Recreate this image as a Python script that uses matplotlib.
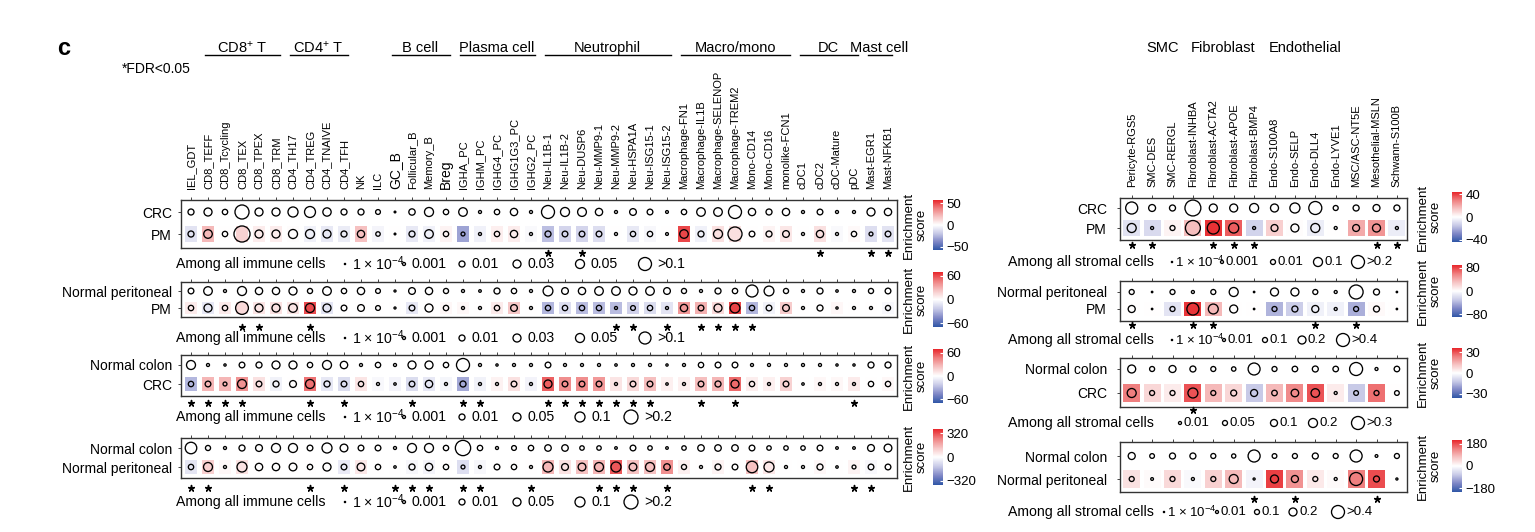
import numpy as np
import matplotlib
matplotlib.use("Agg")
import matplotlib.pyplot as plt
from matplotlib import transforms
from matplotlib.colors import LinearSegmentedColormap, Normalize
from matplotlib.cm import ScalarMappable

plt.rcParams["font.family"] = ["Liberation Sans", "DejaVu Sans"]
plt.rcParams["mathtext.fontset"] = "custom"
plt.rcParams["mathtext.rm"] = "Liberation Sans"
plt.rcParams["mathtext.it"] = "Liberation Sans:italic"
plt.rcParams["mathtext.bf"] = "Liberation Sans:bold"

# ---------------- data ----------------
immune_types = ["IEL_GDT", "CD8_TEFF", "CD8_Tcycling", "CD8_TEX", "CD8_TPEX", "CD8_TRM",
                "CD4_TH17", "CD4_TREG", "CD4_TNAIVE", "CD4_TFH", "NK", "ILC", "GC_B",
                "Follicular_B", "Memory_B", "Breg", "IGHA_PC", "IGHM_PC", "IGHG4_PC",
                "IGHG1G3_PC", "IGHG2_PC", "Neu-IL1B-1", "Neu-IL1B-2", "Neu-DUSP6",
                "Neu-MMP9-1", "Neu-MMP9-2", "Neu-HSPA1A", "Neu-ISG15-1", "Neu-ISG15-2",
                "Macrophage-FN1", "Macrophage-IL1B", "Macrophage-SELENOP", "Macrophage-TREM2",
                "Mono-CD14", "Mono-CD16", "monolike-FCN1", "cDC1", "cDC2", "cDC-Mature",
                "pDC", "Mast-EGR1", "Mast-NFKB1"]
immune_groups = [("CD8$^{+}$ T", 1, 5), ("CD4$^{+}$ T", 6, 9), ("B cell", 12, 15),
                 ("Plasma cell", 16, 20), ("Neutrophil", 21, 28), ("Macro/mono", 29, 35),
                 ("DC", 36, 39), ("Mast cell", 40, 41)]

stromal_types = ["Pericyte-RGS5", "SMC-DES", "SMC-RERGL", "Fibroblast-INHBA", "Fibroblast-ACTA2",
                 "Fibroblast-APOE", "Fibroblast-BMP4", "Endo-S100A8", "Endo-SELP", "Endo-DLL4",
                 "Endo-LYVE1", "MSC/ASC-NT5E", "Mesothelial-MSLN", "Schwann-S100B"]
stromal_groups = [("SMC", 1, 2), ("Fibroblast", 3, 6), ("Endothelial", 7, 10)]

# immune: CRC vs PM
i1_rows = ["CRC", "PM"]
i1_ref = [0.01, 0.03, 0.006, 0.12, 0.03, 0.03, 0.06, 0.07, 0.035, 0.01,
          0.01, 0.004, 0.0002, 0.012, 0.05, 0.006, 0.04, 0.001, 0.006, 0.02,
          0.001, 0.1, 0.05, 0.045, 0.02, 0.001, 0.015, 0.008, 0.0008, 0.006,
          0.04, 0.04, 0.1, 0.02, 0.01, 0.02, 0.001, 0.008, 0.001, 0.001,
          0.03, 0.02]
i1_test = [0.01, 0.04, 0.006, 0.17, 0.03, 0.03, 0.05, 0.05, 0.03, 0.01,
           0.02, 0.003, 0.0002, 0.01, 0.04, 0.006, 0.002, 0.001, 0.006, 0.02,
           0.001, 0.01, 0.008, 0.008, 0.008, 0.001, 0.006, 0.006, 0.0008, 0.04,
           0.01, 0.05, 0.12, 0.008, 0.01, 0.015, 0.001, 0.02, 0.001, 0.006,
           0.002, 0.008]
i1_score = [-10, 22, 0, 14, 6, 6, 1, -5, -8, -7,
            20, -4, 0, -8, -5, 4, -30, -5, 5, 6,
            -2, -22, -15, -15, -12, 0, -8, -3, 0, 50,
            -5, 10, 10, 0, 4, 8, 0, 10, -2, 2,
            -12, -10]
i1_fdr = [21, 23, 37, 40, 41]

# immune: normal peritoneal vs PM
i2_rows = ["Normal peritoneal", "PM"]
i2_ref = [0.008, 0.04, 0.001, 0.05, 0.02, 0.02, 0.03, 0.005, 0.04, 0.006,
          0.02, 0.004, 0.0003, 0.015, 0.02, 0.005, 0.001, 0.0006, 0.01, 0.006,
          0.001, 0.06, 0.015, 0.02, 0.04, 0.04, 0.03, 0.04, 0.015, 0.005,
          0.001, 0.01, 0.006, 0.1, 0.06, 0.005, 0.001, 0.01, 0.0005, 0.001,
          0.005, 0.008]
i2_test = [0.006, 0.03, 0.006, 0.12, 0.03, 0.03, 0.04, 0.05, 0.03, 0.008,
           0.015, 0.004, 0.0003, 0.008, 0.03, 0.006, 0.001, 0.001, 0.006, 0.015,
           0.001, 0.006, 0.006, 0.006, 0.006, 0.001, 0.004, 0.006, 0.001, 0.02,
           0.008, 0.03, 0.06, 0.006, 0.008, 0.015, 0.001, 0.01, 0.0004, 0.001,
           0.001, 0.005]
i2_score = [8, -10, 8, 15, 10, 12, 10, 60, -12, 0,
            0, 0, 0, -10, 0, 3, 3, 0, 8, 22,
            0, -30, -14, -28, -28, -28, -20, -15, -12, 38,
            30, 15, 62, -30, -6, 20, 0, 0, 3, 0,
            0, -3]
i2_fdr = [3, 4, 7, 25, 26, 28, 30, 31, 32, 33]

# immune: normal colon vs CRC
i3_rows = ["Normal colon", "CRC"]
i3_ref = [0.07, 0.001, 0.0004, 0.008, 0.01, 0.05, 0.05, 0.006, 0.07, 0.03,
          0.001, 0.006, 0.001, 0.05, 0.05, 0.006, 0.17, 0.001, 0.0004, 0.001,
          0.001, 0.008, 0.001, 0.001, 0.001, 0.0005, 0.001, 0.001, 0.0004, 0.001,
          0.006, 0.008, 0.008, 0.001, 0.001, 0.001, 0.001, 0.001, 0.0004, 0.0004,
          0.01, 0.01]
i3_test = [0.006, 0.008, 0.002, 0.07, 0.008, 0.01, 0.02, 0.07, 0.01, 0.008,
           0.006, 0.001, 0.0005, 0.008, 0.03, 0.001, 0.01, 0.001, 0.001, 0.008,
           0.001, 0.05, 0.008, 0.008, 0.008, 0.001, 0.008, 0.008, 0.0005, 0.001,
           0.008, 0.01, 0.05, 0.006, 0.001, 0.008, 0.0005, 0.001, 0.001, 0.001,
           0.006, 0.006]
i3_score = [-30, 28, 28, 40, 12, -6, 0, 50, -10, -15,
            10, -3, -5, -15, -10, -4, -35, -6, 5, 12,
            -5, 55, 42, 42, 38, 10, 15, 25, 6, 6,
            25, 28, 52, 7, 6, 18, 0, 3, 3, 8,
            0, 3]
i3_fdr = [0, 1, 2, 3, 7, 9, 13, 16, 17, 21, 22, 23, 24, 25, 26, 27, 30, 32, 39]

# immune: normal colon vs normal peritoneal
i4_rows = ["Normal colon", "Normal peritoneal"]
i4_ref = [0.13, 0.005, 0.001, 0.01, 0.02, 0.07, 0.07, 0.008, 0.1, 0.04,
          0.008, 0.008, 0.001, 0.07, 0.07, 0.006, 0.25, 0.006, 0.001, 0.004,
          0.006, 0.015, 0.015, 0.003, 0.003, 0.0006, 0.008, 0.003, 0.0006, 0.003,
          0.015, 0.015, 0.015, 0.008, 0.003, 0.003, 0.003, 0.008, 0.0006, 0.0006,
          0.02, 0.04]
i4_test = [0.006, 0.07, 0.001, 0.1, 0.03, 0.03, 0.04, 0.006, 0.05, 0.008,
           0.04, 0.006, 0.0005, 0.01, 0.03, 0.006, 0.002, 0.001, 0.008, 0.006,
           0.001, 0.1, 0.02, 0.04, 0.07, 0.1, 0.04, 0.07, 0.015, 0.005,
           0.001, 0.01, 0.008, 0.13, 0.1, 0.001, 0.001, 0.01, 0.0005, 0.002,
           0.008, 0.008]
i4_score = [-60, 100, 15, 60, 0, 0, 0, 0, 0, -50,
            50, 0, 0, -20, -25, 0, -80, -20, 0, 0,
            0, 150, 60, 130, 150, 310, 130, 130, 220, 30,
            0, 25, 0, 130, 50, 0, 0, 15, 0, 25,
            -15, 0]
i4_fdr = [0, 1, 7, 9, 12, 13, 14, 16, 17, 20, 24, 25, 26, 28, 33, 34, 39, 40]

immune_breaks = [[1e-4, 1e-3, 1e-2, 0.03, 0.05, 0.1], [1e-4, 1e-3, 1e-2, 0.03, 0.05, 0.1],
                 [1e-4, 1e-3, 1e-2, 0.05, 0.1, 0.2], [1e-4, 1e-3, 1e-2, 0.05, 0.1, 0.2]]
immune_break_labels = [["1 × 10$^{-4}$", "0.001", "0.01", "0.03", "0.05", ">0.1"],
                       ["1 × 10$^{-4}$", "0.001", "0.01", "0.03", "0.05", ">0.1"],
                       ["1 × 10$^{-4}$", "0.001", "0.01", "0.05", "0.1", ">0.2"],
                       ["1 × 10$^{-4}$", "0.001", "0.01", "0.05", "0.1", ">0.2"]]
immune_score_ticks = [50, 60, 60, 320]
immune_score_lims = [57, 70, 70, 380]

# stromal panels
s1_rows = ["CRC", "PM"]
s1_ref = [0.17, 0.03, 0.018, 0.33, 0.056, 0.056, 0.1, 0.056, 0.12, 0.2, 0.01, 0.018, 0.03, 0.018]
s1_test = [0.1, 0.001, 0.01, 0.28, 0.17, 0.12, 0.001, 0.03, 0.056, 0.1, 0.001, 0.03, 0.056, 0.001]
s1_score = [-8, -10, 3, 16, 42, 35, -12, 12, 1, -5, 0, 20, 25, -5]
s1_fdr = [0, 1, 4, 5, 6, 12, 13]

s2_rows = ["Normal peritoneal", "PM"]
s2_ref = [0.1, 0.0002, 0.1, 0.01, 0.1, 0.23, 0.0002, 0.2, 0.2, 0.1, 0.01, 0.46, 0.126, 0.0002]
s2_test = [0.16, 0.0002, 0.1, 0.35, 0.26, 0.2, 0.0002, 0.1, 0.126, 0.16, 0.01, 0.1, 0.126, 0.0002]
s2_score = [0, 0, -15, 85, 35, 0, 0, -40, -28, -8, -8, -42, 3, 0]
s2_fdr = [0, 3, 4, 9, 11]

s3_rows = ["Normal colon", "CRC"]
s3_ref = [0.14, 0.05, 0.1, 0.07, 0.05, 0.03, 0.27, 0.05, 0.06, 0.07, 0.06, 0.3, 0.01, 0.06]
s3_test = [0.2, 0.05, 0.05, 0.22, 0.05, 0.07, 0.1, 0.06, 0.12, 0.17, 0.01, 0.04, 0.05, 0.04]
s3_score = [24, 8, 4, 30, 14, 8, -12, 14, 22, 30, 4, -12, 26, 0]
s3_fdr = [3]

s4_rows = ["Normal colon", "Normal peritoneal"]
s4_ref = [0.16, 0.07, 0.126, 0.126, 0.1, 0.04, 0.35, 0.07, 0.1, 0.126, 0.1, 0.35, 0.005, 0.1]
s4_test = [0.1, 0.005, 0.1, 0.01, 0.1, 0.23, 0.001, 0.2, 0.16, 0.1, 0.01, 0.4, 0.126, 0.001]
s4_score = [35, 5, 45, -8, 55, 80, -15, 190, 120, 25, 5, 140, 180, 0]
s4_fdr = [6, 8, 12]

stromal_breaks = [[1e-4, 1e-3, 1e-2, 0.1, 0.2], [1e-4, 0.01, 0.1, 0.2, 0.4],
                  [0.01, 0.05, 0.1, 0.2, 0.3], [1e-4, 0.01, 0.1, 0.2, 0.4]]
stromal_break_labels = [["1 × 10$^{-4}$", "0.001", "0.01", "0.1", ">0.2"],
                        ["1 × 10$^{-4}$", "0.01", "0.1", "0.2", ">0.4"],
                        ["0.01", "0.05", "0.1", "0.2", ">0.3"],
                        ["1 × 10$^{-4}$", "0.01", "0.1", "0.2", ">0.4"]]
stromal_score_ticks = [40, 80, 30, 180]
stromal_score_lims = [44, 90, 36, 210]

# ---------------- layout (pixels) ----------------
W, H = 1535, 532
L_COL0, L_STEP = 191.0, 17.0
R_COL0, R_STEP = 1131.7, 20.4

imm_geo = [
    dict(box=(181, 200, 897, 248), rows=(212, 234), star=253, leg=264, cb=(200, 250)),
    dict(box=(181, 282, 897, 317), rows=(291, 308), star=327, leg=338, cb=(272, 327)),
    dict(box=(181, 355, 897, 396), rows=(365, 384), star=403, leg=417, cb=(349, 403)),
    dict(box=(181, 438, 897, 478), rows=(448, 467), star=488, leg=502, cb=(429, 485)),
]
str_geo = [
    dict(box=(1120, 198, 1407, 240), rows=(208, 228), star=245, leg=262, cb=(192, 242)),
    dict(box=(1120, 281, 1407, 321), rows=(292, 309), star=325, leg=340, cb=(265, 317)),
    dict(box=(1120, 358, 1407, 407), rows=(369, 393), star=410, leg=423, cb=(348, 398)),
    dict(box=(1120, 442, 1407, 492), rows=(456, 479), star=499, leg=512, cb=(440, 492)),
]
imm_leg_x = [[345, 404, 462, 517, 580, 645], [345, 404, 462, 517, 580, 645],
             [345, 404, 462, 517, 580, 631], [345, 404, 462, 517, 580, 631]]
str_leg_x = [[1172, 1222, 1273, 1318, 1358], [1172, 1224, 1265, 1302, 1343],
             [1180, 1225, 1274, 1313, 1358], [1164, 1217, 1257, 1293, 1338]]
imm_size_px = [[1.2, 3, 6, 8, 9, 13], [1.2, 3, 6, 8, 9, 12],
               [1.2, 3, 6, 8, 10, 14], [1.2, 3, 6, 8, 10, 14]]
str_size_px = [[1.2, 3, 5, 9, 13], [1.2, 3, 5, 8, 13], [3, 5, 7, 9, 13], [1.2, 3, 5, 8, 13]]

cmap = LinearSegmentedColormap.from_list(
    "enrich", ["#2F56A6", "#7F87C6", "#C8CAE7", "#FFFFFF", "#F6C4C4", "#EF8080", "#E8262B"])


def diameters(p, breaks, px):
    lb = np.log10(breaks)
    lp = np.log10(np.asarray(p, float))
    d = np.interp(lp, lb, px)
    slope = (px[-1] - px[-2]) / (lb[-1] - lb[-2])
    d = np.where(lp > lb[-1], px[-1] + slope * (lp - lb[-1]), d)
    return np.clip(d, 0.8, 17)


def area(d):
    return (np.asarray(d) * 0.72) ** 2


fig = plt.figure(figsize=(W / 100, H / 100), dpi=100)
ov = fig.add_axes([0, 0, 1, 1])
ov.set_xlim(0, W)
ov.set_ylim(H, 0)
ov.axis("off")
ov.set_zorder(10)


def panel(geo, col0, step, labels, rows, ref, test, score, fdr, breaks, spx, lim, tick,
          first, tile_w, tile_h, ypad, cbx, cblab_x, leg_title, leg_title_x, leg_x,
          leg_labels, leg_gap, leg_fs):
    x0, y0, x1, y1 = geo["box"]
    r0, r1 = geo["rows"]
    ax = fig.add_axes([x0 / W, 1 - y1 / H, (x1 - x0) / W, (y1 - y0) / H])
    n = len(labels)
    x = np.arange(n)
    ax.set_xlim((x0 - col0) / step, (x1 - col0) / step)
    sp = r1 - r0
    ax.set_ylim(1 + (y1 - r1) / sp, -(r0 - y0) / sp)
    norm = Normalize(-lim, lim)
    ax.bar(x, tile_h, width=tile_w, bottom=1 - tile_h / 2,
           color=cmap(norm(np.array(score, float))), linewidth=0, zorder=1)
    for yy, prop in ((0, ref), (1, test)):
        ax.scatter(x, np.full(n, yy), s=area(diameters(prop, breaks, spx)),
                   facecolors="none", edgecolors="black", linewidths=0.95, zorder=3)
    ax.xaxis.set_ticks_position("top")
    ax.set_xticks(x)
    if first:
        ax.set_xticklabels(labels, rotation=90, fontsize=8.0)
        for t in ax.get_xticklabels():
            if t.get_text() in ("GC_B", "Breg"):
                t.set_fontsize(10)
    else:
        ax.set_xticklabels([])
    ax.tick_params(axis="x", length=2.4, width=0.7, color="#444444", pad=5.5)
    ax.set_yticks([0, 1])
    ax.set_yticklabels(rows, fontsize=10)
    ax.tick_params(axis="y", length=2.4, width=0.7, color="#444444", pad=ypad)
    for s in ax.spines.values():
        s.set_color("#333333")
        s.set_linewidth(1.0)

    # significance stars (FDR < 0.05)
    blend = transforms.blended_transform_factory(ax.transData, ov.transData)
    ov.scatter(fdr, np.full(len(fdr), geo["star"]), transform=blend, marker=(5, 2, 0),
               s=18, linewidths=1.1, color="black")

    # colour bar
    cy0, cy1 = geo["cb"]
    cax = fig.add_axes([cbx / W, 1 - cy1 / H, 10 / W, (cy1 - cy0) / H])
    cb = fig.colorbar(ScalarMappable(norm=norm, cmap=cmap), cax=cax, ticks=[-tick, 0, tick])
    cb.outline.set_visible(False)
    cax.tick_params(length=2.5, width=0.8, color="white", direction="in", labelsize=9.5, pad=2.5)
    ov.text(cblab_x, (cy0 + cy1) / 2, "Enrichment\nscore", rotation=90, ha="center",
            va="center", fontsize=9.5, linespacing=1.05)

    # size legend
    ly = geo["leg"]
    ov.text(leg_title_x, ly, leg_title, va="center", fontsize=10.2)
    d = diameters(breaks, breaks, spx)
    ov.scatter(leg_x, np.full(len(leg_x), ly), s=area(d), facecolors="none",
               edgecolors="black", linewidths=0.95)
    for xm, dm, lab in zip(leg_x, d, leg_labels):
        ov.text(xm + dm / 2 + leg_gap, ly, lab, va="center", fontsize=leg_fs)
    return ax


imm_data = [(i1_rows, i1_ref, i1_test, i1_score, i1_fdr),
            (i2_rows, i2_ref, i2_test, i2_score, i2_fdr),
            (i3_rows, i3_ref, i3_test, i3_score, i3_fdr),
            (i4_rows, i4_ref, i4_test, i4_score, i4_fdr)]
str_data = [(s1_rows, s1_ref, s1_test, s1_score, s1_fdr),
            (s2_rows, s2_ref, s2_test, s2_score, s2_fdr),
            (s3_rows, s3_ref, s3_test, s3_score, s3_fdr),
            (s4_rows, s4_ref, s4_test, s4_score, s4_fdr)]

imm_axes = []
for k, (rows, ref, test, score, fdr) in enumerate(imm_data):
    imm_axes.append(panel(imm_geo[k], L_COL0, L_STEP, immune_types, rows, ref, test, score, fdr,
                          immune_breaks[k], imm_size_px[k], immune_score_lims[k],
                          immune_score_ticks[k], k == 0, 0.7, 0.72, 4.1, 933, 915,
                          "Among all immune cells", 176, imm_leg_x[k],
                          immune_break_labels[k], 6, 10.2))
str_axes = []
for k, (rows, ref, test, score, fdr) in enumerate(str_data):
    str_axes.append(panel(str_geo[k], R_COL0, R_STEP, stromal_types, rows, ref, test, score, fdr,
                          stromal_breaks[k], str_size_px[k], stromal_score_lims[k],
                          stromal_score_ticks[k], k == 0, 0.83, 0.78, 7.0, 1452, 1429,
                          "Among all stromal cells", 1008, str_leg_x[k],
                          stromal_break_labels[k], 2.0, 9.5))

# group headers
hb = transforms.blended_transform_factory(imm_axes[0].transData, ov.transData)
for name, a, b in immune_groups:
    ov.plot([a - 0.2, b + 0.25], [55, 55], color="black", lw=1.0, transform=hb)
    ov.text((a + b) / 2, 48, name, transform=hb, ha="center", va="center", fontsize=10.5)
hr = transforms.blended_transform_factory(str_axes[0].transData, ov.transData)
for name, a, b in stromal_groups:
    ov.text((a + b) / 2, 48, name, transform=hr, ha="center", va="center", fontsize=10.5)

ov.text(57, 55, "c", fontsize=17, fontweight="bold", va="baseline", ha="left")
ov.text(122, 69, "*FDR<0.05", fontsize=10, va="center", ha="left")

fig.savefig("out.png", dpi=100)
